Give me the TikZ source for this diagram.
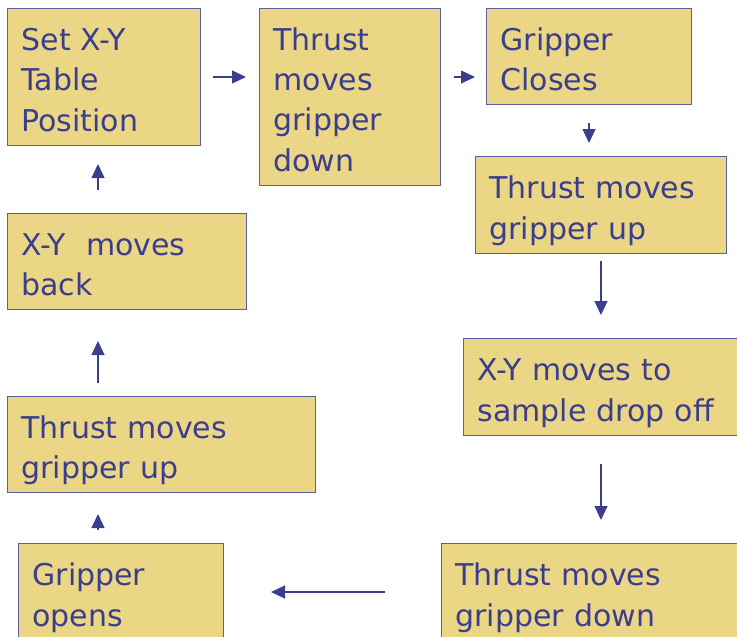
\documentclass[tikz,border=0pt]{standalone}
\usepackage{fontspec}
\setmainfont{DejaVu Sans}
\usetikzlibrary{arrows.meta}
\definecolor{boxfill}{RGB}{234,214,132}
\definecolor{boxline}{RGB}{92,96,160}
\definecolor{ink}{RGB}{58,62,140}
\tikzset{
  flowbox/.style={draw=boxline, line width=1pt, fill=boxfill, text=ink, anchor=north west,
    inner xsep=14pt, inner ysep=0pt, align=left,
    font=\fontsize{30}{40.5}\selectfont,
    execute at begin node={\rule{0pt}{41.5pt}},
    execute at end node={\rule[-14pt]{0pt}{0pt}}},
  arr/.style={draw=ink, line width=1.1pt, -{Triangle[length=14pt,width=13pt]}}
}
\begin{document}
\begin{tikzpicture}[x=1pt,y=-1pt]
\useasboundingbox (0,0) rectangle (737,637);
\clip (0,0) rectangle (737,637);
\node[flowbox, minimum width=193pt, minimum height=137pt, text width=165pt] (n1) at (7,8) {Set X-Y\\Table\\Position};
\node[flowbox, minimum width=181pt, minimum height=177pt, text width=153pt] (n2) at (259,8) {Thrust\\moves\\gripper\\down};
\node[flowbox, minimum width=205pt, minimum height=96pt, text width=177pt] (n3) at (486,8) {Gripper\\Closes};
\node[flowbox, minimum width=251pt, minimum height=97pt, text width=223pt] (n4) at (475,156) {Thrust moves\\gripper up};
\node[flowbox, minimum width=280pt, minimum height=97pt, text width=252pt] (n5) at (463,338) {X-Y moves to\\sample drop off};
\node[flowbox, minimum width=310pt, minimum height=97pt, text width=282pt] (n6) at (441,543) {Thrust moves\\gripper down};
\node[flowbox, minimum width=205pt, minimum height=97pt, text width=177pt] (n7) at (18,543) {Gripper\\opens};
\node[flowbox, minimum width=308pt, minimum height=95pt, text width=280pt] (n8) at (7,396) {Thrust moves\\gripper up};
\node[flowbox, minimum width=239pt, minimum height=96pt, text width=211pt] (n9) at (7,213) {X-Y\ \ moves\\back};
\coordinate (lx) at (98,0);
\draw[arr] ([xshift=12pt]n1.east) -- ([xshift=-13pt]n1.east -| n2.west);
\draw[arr] ([xshift=13pt]n2.east |- n1.east) -- ([xshift=-11pt]n3.west |- n1.east);
\draw[arr] ([yshift=-18pt]n3.south) -- ([yshift=13pt]n3.south |- n4.north);
\draw[arr] ([yshift=-7pt]n4.south) -- ([yshift=23pt]n4.south |- n5.north);
\draw[arr] ([yshift=-28pt]n4.south |- n5.south) -- ([yshift=23pt]n4.south |- n6.north);
\draw[arr] ([xshift=-56pt]n6.west) -- ([xshift=47pt]n6.west -| n7.east);
\draw[arr] ([yshift=13pt]n7.north -| lx) -- ([yshift=-21pt]n8.south -| lx);
\draw[arr] ([yshift=13pt]n8.north -| lx) -- ([yshift=-31pt]n9.south -| lx);
\draw[arr] ([yshift=23pt]n9.north -| lx) -- ([yshift=-18pt]n1.south -| lx);
\end{tikzpicture}
\end{document}
